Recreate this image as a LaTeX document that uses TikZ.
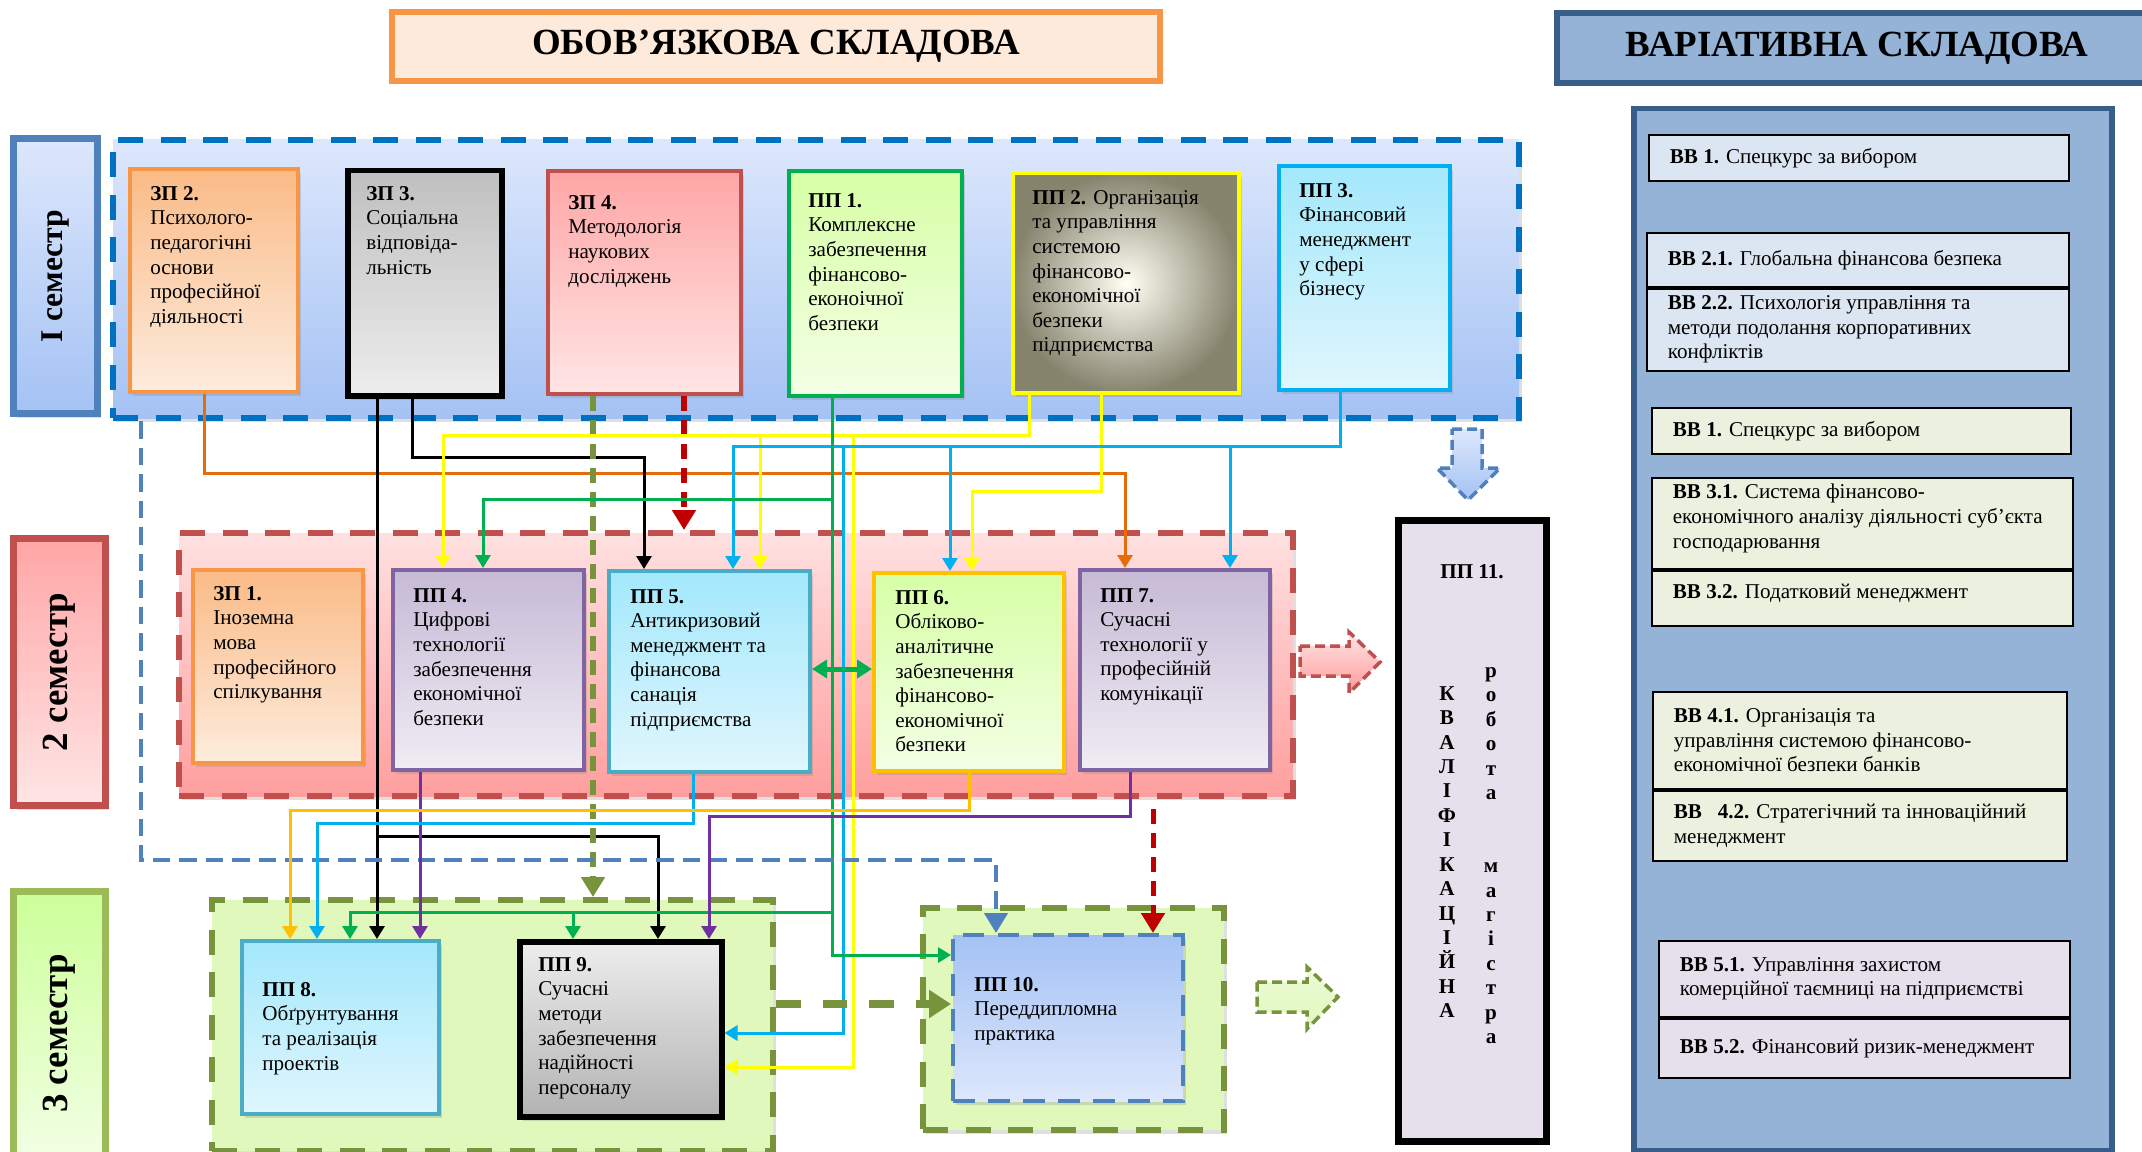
\documentclass[tikz,border=0pt]{standalone}
\usepackage{fontspec}
\setmainfont{Liberation Serif}
\usetikzlibrary{arrows.meta,positioning,shadows}

\definecolor{cOrange}{HTML}{E46C0A}
\definecolor{cGold}{HTML}{FFC000}
\definecolor{cYellow}{HTML}{FFFF00}
\definecolor{cGreen}{HTML}{00B050}
\definecolor{cBlue}{HTML}{00B0F0}
\definecolor{cPurple}{HTML}{7030A0}
\definecolor{cRed}{HTML}{C00000}
\definecolor{cOlive}{HTML}{77933C}
\definecolor{cSteel}{HTML}{4F81BD}
\definecolor{cNavy}{HTML}{385D8A}
\definecolor{cDeep}{HTML}{0070C0}
\definecolor{cBrick}{HTML}{C0504D}
\definecolor{cTangerine}{HTML}{F79646}
\definecolor{cLav}{HTML}{8064A2}
\definecolor{cTeal}{HTML}{4BACC6}
\definecolor{cLeaf}{HTML}{9BBB59}
\definecolor{skyTop}{HTML}{DDE7FC}
\definecolor{skyBot}{HTML}{A4C2F4}
\definecolor{aquaTop}{HTML}{A3E8FC}
\definecolor{aquaBot}{HTML}{E0F6FD}
\definecolor{limeBg}{HTML}{E0F8BC}
\definecolor{khaki}{HTML}{87846E}

\tikzset{link/.style = {line width=0.6mm, -{Triangle[length=2.6mm,width=3mm]}}}
\tikzset{dlink/.style = {line width=1.2mm, dash pattern=on 3mm off 1.8mm, -{Triangle[length=4mm,width=4.6mm]}}}
\tikzset{soft/.style = {drop shadow={opacity=0.25, shadow xshift=0.6mm, shadow yshift=-0.8mm}}}

\begin{document}
\begin{tikzpicture}[x=0.2mm, y=-0.2mm,
    course/.style={draw, line width=0.8mm, anchor=north west, inner sep=0pt, soft},
    ctext/.style={anchor=north west, align=left, inner sep=0pt, font=\fontsize{12}{14}\selectfont},
    vb/.style={draw, line width=0.35mm, inner sep=0pt, minimum height=#1},
    vbtext/.style={anchor=west, align=left, inner sep=0pt, font=\fontsize{12}{14}\selectfont},
    semlab/.style={draw, line width=1.4mm, anchor=north west, inner sep=0pt, minimum width=18.4mm, soft},
    semtext/.style={rotate=90, font=\fontsize{21}{24}\selectfont\bfseries},
    cont/.style={line width=1.2mm, dash pattern=on 5mm off 3.5mm, anchor=north west, inner sep=0pt, soft},
    title/.style={draw, line width=1.1mm, inner sep=0pt, font=\fontsize{21}{24}\selectfont\bfseries},
    barrow/.style={line width=0.7mm, dash pattern=on 2mm off 1mm, line join=miter}]

\fill[white] (0,0) rectangle (2142,1152);
\useasboundingbox (0,0) rectangle (2142,1152);

% titles
\node[title, draw=cTangerine, fill=cTangerine!20, minimum width=153.6mm, minimum height=13.8mm] (oblig) at (776,46.5) {ОБОВ’ЯЗКОВА СКЛАДОВА};
\node[title, draw=cNavy, fill=cSteel!60, minimum width=120mm, minimum height=14mm] (variat) at (1857,48) {ВАРІАТИВНА СКЛАДОВА};

% variative part
\node[draw=cNavy, line width=1.1mm, fill=cSteel!60, anchor=north west, inner sep=0pt, minimum width=95.6mm, minimum height=208.4mm] (varbox) at (1631,106) {};
\node[vb=9.2mm, fill=cSteel!20, minimum width=84mm, anchor=north west] (vb1) at (1648,134) {};
\node[vb=10.8mm, fill=cSteel!20, minimum width=84.4mm, anchor=north west] (vb21) at (1646,232) {};
\node[vb=16.4mm, fill=cSteel!20, minimum width=84.4mm, below=0pt of vb21] (vb22) {};
\node[vb=9.2mm, fill=cLeaf!20, minimum width=83.8mm, anchor=north west] (vb1b) at (1651,407) {};
\node[vb=18.2mm, fill=cLeaf!20, minimum width=84.2mm, anchor=north west] (vb31) at (1651,477) {};
\node[vb=11mm, fill=cLeaf!20, minimum width=84.2mm, below=0pt of vb31] (vb32) {};
\node[vb=19.4mm, fill=cLeaf!20, minimum width=82.8mm, anchor=north west] (vb41) at (1652,691) {};
\node[vb=14mm, fill=cLeaf!20, minimum width=82.8mm, below=0pt of vb41] (vb42) {};
\node[vb=15.2mm, fill=cLav!20, minimum width=82.2mm, anchor=north west] (vb51) at (1658,940) {};
\node[vb=11.8mm, fill=cLav!20, minimum width=82.2mm, below=0pt of vb51] (vb52) {};

\node[vbtext] (vb1t) at ([xshift=4.3mm]vb1.west) {\textbf{ВВ 1.} Спецкурс за вибором};
\node[vbtext] (vb21t) at ([xshift=4.3mm]vb21.west) {\textbf{ВВ 2.1.} Глобальна фінансова безпека};
\node[vbtext] (vb22t) at ([xshift=4.3mm]vb22.west) {\textbf{ВВ 2.2.} Психологія управління та\\методи подолання корпоративних\\конфліктів};
\node[vbtext] (vb1bt) at ([xshift=4.3mm]vb1b.west) {\textbf{ВВ 1.} Спецкурс за вибором};
\node[vbtext] (vb31t) at ([xshift=4.3mm,yshift=1mm]vb31.west) {\textbf{ВВ 3.1.} Система фінансово-\\економічного аналізу діяльності суб’єкта\\господарювання};
\node[vbtext] (vb32t) at ([xshift=4.3mm,yshift=1mm]vb32.west) {\textbf{ВВ 3.2.} Податковий менеджмент};
\node[vbtext] (vb41t) at ([xshift=4.3mm]vb41.west) {\textbf{ВВ 4.1.} Організація та\\управління системою фінансово-\\економічної безпеки банків};
\node[vbtext] (vb42t) at ([xshift=4.3mm]vb42.west) {\textbf{ВВ~~~4.2.} Стратегічний та інноваційний\\менеджмент};
\node[vbtext] (vb51t) at ([xshift=4.3mm]vb51.west) {\textbf{ВВ 5.1.} Управління захистом\\комерційної таємниці на підприємстві};
\node[vbtext] (vb52t) at ([xshift=4.3mm]vb52.west) {\textbf{ВВ 5.2.} Фінансовий ризик-менеджмент};

% semester labels
\node[semlab, draw=cSteel, top color=skyTop, bottom color=skyBot, minimum width=16.8mm, minimum height=55mm] (sem1lab) at (10,135) {};
\node[semlab, draw=cBrick, top color=red!35, bottom color=red!10, minimum height=53.4mm] (sem2lab) at (10,535) {};
\node[semlab, draw=cLeaf, top color=green!50!yellow!40, bottom color=green!50!yellow!8, minimum height=58mm] (sem3lab) at (10,888) {};
\node[semtext, font=\fontsize{18}{20}\selectfont\bfseries] (sem1t) at (sem1lab.center) {I семестр};
\node[semtext] (sem2t) at (sem2lab.center) {2 семестр};
\node[semtext] (sem3t) at ([yshift=0.6mm]sem3lab.center) {3 семестр};

% semester containers
\node[cont, draw=cDeep, top color=skyTop, bottom color=skyBot, minimum width=281.2mm, minimum height=55.6mm] (sem1) at (110,137) {};
\node[cont, draw=cBrick, top color=red!12, bottom color=red!38, minimum width=222.8mm, minimum height=52.6mm] (sem2) at (176,530) {};
\node[cont, draw=cOlive, fill=limeBg, minimum width=112.2mm, minimum height=50.2mm] (sem3) at (209,897) {};
\node[cont, draw=cOlive, fill=limeBg, minimum width=60.2mm, minimum height=44.4mm] (pp10o) at (920,905) {};

% block arrows
\draw[barrow, draw=cSteel, top color=skyTop, bottom color=skyBot] (1452,429) -- (1482,429) -- (1482,468) -- (1500,468) -- (1468,500) -- (1437,468) -- (1452,468) -- cycle;
\draw[barrow, draw=cBrick, top color=red!10, bottom color=red!40] (1300,646) -- (1349,646) -- (1349,632) -- (1380,662) -- (1349,693) -- (1349,676) -- (1300,676) -- cycle;
\draw[barrow, draw=cOlive, top color=limeBg!60, bottom color=limeBg] (1257,982) -- (1307,982) -- (1307,967) -- (1338,997) -- (1307,1029) -- (1307,1012) -- (1257,1012) -- cycle;

% 1st semester
\node[course, draw=cTangerine, top color=cTangerine!65, bottom color=cTangerine!18, minimum width=33.6mm, minimum height=44.6mm] (zp2) at (128,167) {};
\node[course, draw=black, line width=1.1mm, top color=black!25, bottom color=black!7, minimum width=30.8mm, minimum height=45mm] (zp3) at (345,168) {};
\node[course, draw=cBrick, top color=red!35, bottom color=red!10, minimum width=38.6mm, minimum height=44.6mm] (zp4) at (546,169) {};
\node[course, draw=cGreen, top color=green!45!yellow!35, bottom color=green!45!yellow!10, minimum width=34.6mm, minimum height=45mm] (pp1) at (787,169) {};
\node[course, draw=cYellow, inner color=yellow!4, outer color=khaki, minimum width=45.2mm, minimum height=44mm] (pp2) at (1011,171) {};
\node[course, draw=cBlue, top color=aquaTop, bottom color=aquaBot, minimum width=34.2mm, minimum height=44.8mm] (pp3) at (1277,164) {};

\node[ctext] (zp2t) at ([shift={(22,19)}]zp2.north west) {\textbf{ЗП 2.}\\Психолого-\\педагогічні\\основи\\професійної\\діяльності};
\node[ctext] (zp3t) at ([shift={(21,18)}]zp3.north west) {\textbf{ЗП 3.}\\Соціальна\\відповіда-\\льність};
\node[ctext] (zp4t) at ([shift={(22,26)}]zp4.north west) {\textbf{ЗП 4.}\\Методологія\\наукових\\досліджень};
\node[ctext] (pp1t) at ([shift={(21,24)}]pp1.north west) {\textbf{ПП 1.}\\Комплексне\\забезпечення\\фінансово-\\еконоічної\\безпеки};
\node[ctext] (pp2t) at ([shift={(21,19)}]pp2.north west) {\textbf{ПП 2.} Організація\\та управління\\системою\\фінансово-\\економічної\\безпеки\\підприємства};
\node[ctext] (pp3t) at ([shift={(22,19)}]pp3.north west) {\textbf{ПП 3.}\\Фінансовий\\менеджмент\\у сфері\\бізнесу};

% 2nd semester
\node[course, draw=cTangerine, top color=cTangerine!65, bottom color=cTangerine!18, minimum width=34mm, minimum height=38.6mm] (zp1) at (191,568) {};
\node[course, draw=cLav, top color=cLav!45, bottom color=cLav!12, minimum width=38.2mm, minimum height=40mm] (pp4) at (391,568) {};
\node[course, draw=cTeal, top color=aquaTop, bottom color=aquaBot, minimum width=40.2mm, minimum height=40.2mm] (pp5) at (607,569) {};
\node[course, draw=cGold, top color=green!45!yellow!35, bottom color=green!45!yellow!10, minimum width=38mm, minimum height=39.6mm] (pp6) at (872,571) {};
\node[course, draw=cLav, top color=cLav!45, bottom color=cLav!12, minimum width=38mm, minimum height=40mm] (pp7) at (1078,568) {};

\node[ctext] (zp1t) at ([shift={(22,18)}]zp1.north west) {\textbf{ЗП 1.}\\Іноземна\\мова\\професійного\\спілкування};
\node[ctext] (pp4t) at ([shift={(22,20)}]pp4.north west) {\textbf{ПП 4.}\\Цифрові\\технології\\забезпечення\\економічної\\безпеки};
\node[ctext] (pp5t) at ([shift={(23,20)}]pp5.north west) {\textbf{ПП 5.}\\Антикризовий\\менеджмент та\\фінансова\\санація\\підприємства};
\node[ctext] (pp6t) at ([shift={(23,19)}]pp6.north west) {\textbf{ПП 6.}\\Обліково-\\аналітичне\\забезпечення\\фінансово-\\економічної\\безпеки};
\node[ctext] (pp7t) at ([shift={(22,20)}]pp7.north west) {\textbf{ПП 7.}\\Сучасні\\технології у\\професійній\\комунікації};

% 3rd semester
\node[course, draw=cTeal, top color=aquaTop, bottom color=aquaBot, minimum width=39.4mm, minimum height=34.6mm] (pp8) at (240,939) {};
\node[course, draw=black, line width=1.1mm, top color=black!7, bottom color=black!30, minimum width=40.4mm, minimum height=35mm] (pp9) at (517,939) {};
\node[course, draw=cSteel, dash pattern=on 4.3mm off 2.7mm, top color=skyBot, bottom color=skyTop, minimum width=46mm, minimum height=33.2mm] (pp10) at (951,933) {};

\node[ctext, anchor=west] (pp8t) at ([shift={(22,1)}]pp8.west) {\textbf{ПП 8.}\\Обґрунтування\\та реалізація\\проектів};
\node[ctext] (pp9t) at ([shift={(21,18)}]pp9.north west) {\textbf{ПП 9.}\\Сучасні\\методи\\забезпечення\\надійності\\персоналу};
\node[ctext, anchor=west] (pp10t) at ([shift={(23,-7)}]pp10.west) {\textbf{ПП 10.}\\Переддипломна\\практика};

% master's thesis
\node[course, draw=black, line width=1.3mm, fill=cLav!20, minimum width=29.6mm, minimum height=124.2mm] (pp11) at (1395,517) {};
\node[font=\fontsize{12}{14}\selectfont\bfseries, inner sep=0pt] (pp11t) at (1472,572) {ПП 11.};
\node[align=center, anchor=north, inner sep=0pt, font=\fontsize{12}{13.9}\selectfont\bfseries] (kval) at (1447,686) {К\\В\\А\\Л\\І\\Ф\\І\\К\\А\\Ц\\І\\Й\\Н\\А};
\node[align=center, anchor=north, inner sep=0pt, font=\fontsize{12}{13.9}\selectfont\bfseries] (robota) at (1491,667) {р\\о\\б\\о\\т\\а\\~\\~\\м\\а\\г\\і\\с\\т\\р\\а};

% links from 1st semester
\draw[link, cOrange] (zp2.south -| 204,0) |- (1125,473) -- (pp7.north -| 1125,0);
\draw[link, black] (zp3.south -| 377,0) -- (pp8.north -| 377,0);
\draw[link, black] (zp3.south -| 377,0) |- (658,836) -- (pp9.north -| 658,0);
\draw[link, black] (zp3.south -| 412,0) |- (644,457) -- (pp5.north -| 644,0);
\draw[dlink, cOlive] (zp4.south -| 593,0) -- (sem3.north -| 593,0);
\draw[dlink, cRed] (zp4.south -| 684,0) -- (sem2.north -| 684,0);

\draw[link, cYellow] (pp2.south -| 1029,0) |- (443,435) -- (pp4.north -| 443,0);
\draw[link, cYellow] (pp2.south -| 1029,0) |- (760,435) -- (pp5.north -| 760,0);
\draw[link, cYellow] (pp2.south -| 1029,0) |- (853,435) |- (pp9.east |- 0,1067);
\draw[link, cYellow] (pp2.south -| 1101,0) |- (972,491) -- (pp6.north -| 972,0);

\draw[link, cBlue] (pp3.south -| 1340,0) |- (733,446) -- (pp5.north -| 733,0);
\draw[link, cBlue] (pp3.south -| 1340,0) |- (950,446) -- (pp6.north -| 950,0);
\draw[link, cBlue] (pp3.south -| 1340,0) |- (1230,446) -- (pp7.north -| 1230,0);
\draw[link, cBlue] (pp3.south -| 1340,0) |- (843,446) |- (pp9.east |- 0,1033);

\draw[link, cGreen] (pp1.south -| 832,0) |- (483,499) -- (pp4.north -| 483,0);
\draw[link, cGreen] (pp1.south -| 832,0) |- (350,912) -- (pp8.north -| 350,0);
\draw[link, cGreen] (pp1.south -| 832,0) |- (573,912) -- (pp9.north -| 573,0);
\draw[link, cGreen] (pp1.south -| 832,0) |- (pp10.west |- 0,955);

\draw[dlink, cSteel, line width=0.9mm, dash pattern=on 3.5mm off 1.8mm] (sem1.south -| 141,0) |- (996,860) -- (pp10.north -| 996,0);

% links from 2nd semester
\draw[link, cPurple] (pp4.south -| 420,0) -- (pp8.north -| 420,0);
\draw[link, cBlue] (pp5.south -| 693,0) |- (317,823) -- (pp8.north -| 317,0);
\draw[link, cGold] (pp6.south -| 969,0) |- (290,810) -- (pp8.north -| 290,0);
\draw[link, cPurple] (pp7.south -| 1130,0) |- (709,816) -- (pp9.north -| 709,0);
\draw[dlink, cRed, line width=1mm] ([yshift=-2mm]sem2.south -| 1153,0) -- (pp10.north -| 1153,0);
\draw[link, cGreen, line width=1mm, {Triangle[length=3mm,width=3.6mm]}-{Triangle[length=3mm,width=3.6mm]}] (pp5.east |- 0,669) -- (pp6.west |- 0,669);

% 3rd semester to practice
\draw[dlink, cOlive, line width=1.6mm, dash pattern=on 4.9mm off 4.4mm, -{Triangle[length=4.4mm,width=5.4mm]}] (sem3.east |- 0,1004) -- (pp10.west |- 0,1004);

\end{tikzpicture}
\end{document}
